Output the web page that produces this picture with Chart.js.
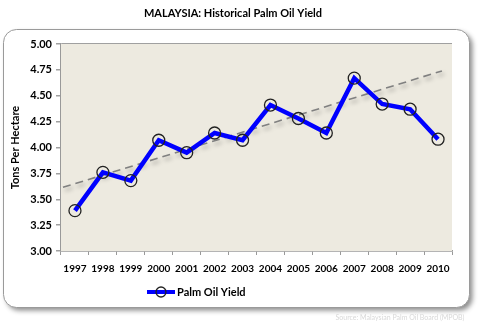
<!DOCTYPE html>
<html>
<head>
<meta charset="utf-8">
<script src="https://cdn.jsdelivr.net/npm/chart.js@4.4.0/dist/chart.umd.min.js"></script>
<style>
  html, body { margin: 0; padding: 0; background: #fff; }
  #wrap { width: 482px; height: 329px; position: relative; }
</style>
</head>
<body>
<div id="wrap"><canvas id="myChart" width="482" height="329"></canvas></div>
<script>
const years = ['1997', '1998', '1999', '2000', '2001', '2002', '2003', '2004', '2005', '2006', '2007', '2008', '2009', '2010'];
const yieldValues = [3.39, 3.76, 3.68, 4.07, 3.95, 4.14, 4.07, 4.41, 4.28, 4.14, 4.67, 4.42, 4.37, 4.08];
// trend line ends (x in category index units)
const trendX = [-0.43, 13.14];
const trendY = [3.615, 4.74];
const yTicks = [3.00, 3.25, 3.50, 3.75, 4.00, 4.25, 4.50, 4.75, 5.00];

const fontFam = 'Lato, "Open Sans", sans-serif';

const frame = {
  id: 'frame',
  beforeDraw(chart) {
    const c = chart.ctx;
    c.save();
    c.shadowColor = 'rgba(0,0,0,0.45)';
    c.shadowBlur = 5;
    c.shadowOffsetX = 3;
    c.shadowOffsetY = 3;
    c.fillStyle = '#fff';
    c.strokeStyle = '#9a9a9a';
    c.lineWidth = 1;
    c.beginPath();
    c.roundRect(3.5, 29.5, 466, 278, 13);
    c.fill();
    c.shadowColor = 'transparent';
    c.stroke();
    c.restore();
    c.save();
    c.font = 'bold 11px ' + fontFam;
    c.fillStyle = '#000';
    c.textAlign = 'center';
    c.textBaseline = 'middle';
    c.fillText('MALAYSIA: Historical Palm Oil Yield', 233, 13);
    c.font = '7px ' + fontFam;
    c.fillStyle = '#d8d8d8';
    c.fillText('Source: Malaysian Palm Oil Board (MPOB)', 400, 318);
    c.restore();
  },
  beforeDatasetsDraw(chart) {
    const a = chart.chartArea, c = chart.ctx;
    c.save();
    c.fillStyle = '#edeae0';
    c.fillRect(a.left, a.top, a.right - a.left, a.bottom - a.top);
    c.restore();
  },
  beforeDatasetDraw(chart, args) {
    if (args.index === 1) {
      const c = chart.ctx;
      c.save();
      c.shadowColor = 'rgba(0,0,0,0.35)';
      c.shadowBlur = 4;
      c.shadowOffsetX = 2;
      c.shadowOffsetY = 3;
    }
  },
  afterDatasetDraw(chart, args) {
    if (args.index === 1) chart.ctx.restore();
  },
  // legend: blue line with open circle, then the series name
  afterDraw(chart) {
    const c = chart.ctx;
    const ds = chart.data.datasets[0];
    const y = 292;
    c.save();
    c.strokeStyle = ds.borderColor; c.lineWidth = 4;
    c.beginPath(); c.moveTo(147, y); c.lineTo(175, y); c.stroke();
    c.strokeStyle = '#222'; c.lineWidth = 1.3;
    c.beginPath(); c.arc(161, y, 5, 0, Math.PI * 2); c.stroke();
    c.font = 'bold 11px ' + fontFam;
    c.fillStyle = '#000';
    c.textBaseline = 'middle';
    c.fillText(ds.label, 177, y);
    c.restore();
  }
};

const ctx = document.getElementById('myChart').getContext('2d');
const myChart = new Chart(ctx, {
  type: 'line',
  data: {
    labels: years,
    datasets: [{
      label: 'Palm Oil Yield',
      data: yieldValues,
      borderColor: '#0000ff',
      borderWidth: 4.5,
      pointRadius: 6,
      pointBorderColor: '#222',
      pointBorderWidth: 1.3,
      pointBackgroundColor: 'rgba(0,0,0,0)',
      tension: 0,
      xAxisID: 'x'
    }, {
      label: 'trend',
      data: trendX.map((x, i) => ({ x: x, y: trendY[i] })),
      borderColor: '#808080',
      borderWidth: 1.6,
      borderDash: [8, 5],
      pointRadius: 0,
      xAxisID: 'xt'
    }]
  },
  options: {
    responsive: false,
    animation: false,
    layout: { padding: { left: 4, right: 30, top: 44, bottom: 46 } },
    plugins: {
      title: { display: false },
      tooltip: { enabled: false },
      legend: { display: false }
    },
    scales: {
      x: {
        type: 'category',
        offset: true,
        grid: {
          display: true,
          drawOnChartArea: false,
          offset: true,
          tickLength: 4,
          color: '#999'
        },
        border: { color: '#999', width: 1.5 },
        ticks: {
          color: '#000',
          padding: 8,
          maxRotation: 0,
          autoSkip: false,
          font: { family: fontFam, size: 10, weight: 'bold' }
        }
      },
      xt: {
        type: 'linear',
        display: false,
        min: -0.5,
        max: 13.5
      },
      y: {
        min: 3,
        max: 5,
        afterBuildTicks: scale => { scale.ticks = yTicks.map(v => ({ value: v })); },
        afterFit: scale => { scale.width = 57; },
        grid: { color: '#a0a0a0', lineWidth: 1.5, tickLength: 5 },
        border: { color: '#999', width: 1.5 },
        title: {
          display: true,
          text: 'Tons Per Hectare',
          color: '#000',
          padding: { top: 5, bottom: 2 },
          font: { family: fontFam, size: 11, weight: 'bold' }
        },
        ticks: {
          color: '#000',
          padding: 4,
          callback: v => Number(v).toFixed(2),
          font: { family: fontFam, size: 11, weight: 'bold' }
        }
      }
    }
  },
  plugins: [frame]
});
</script>
</body>
</html>
